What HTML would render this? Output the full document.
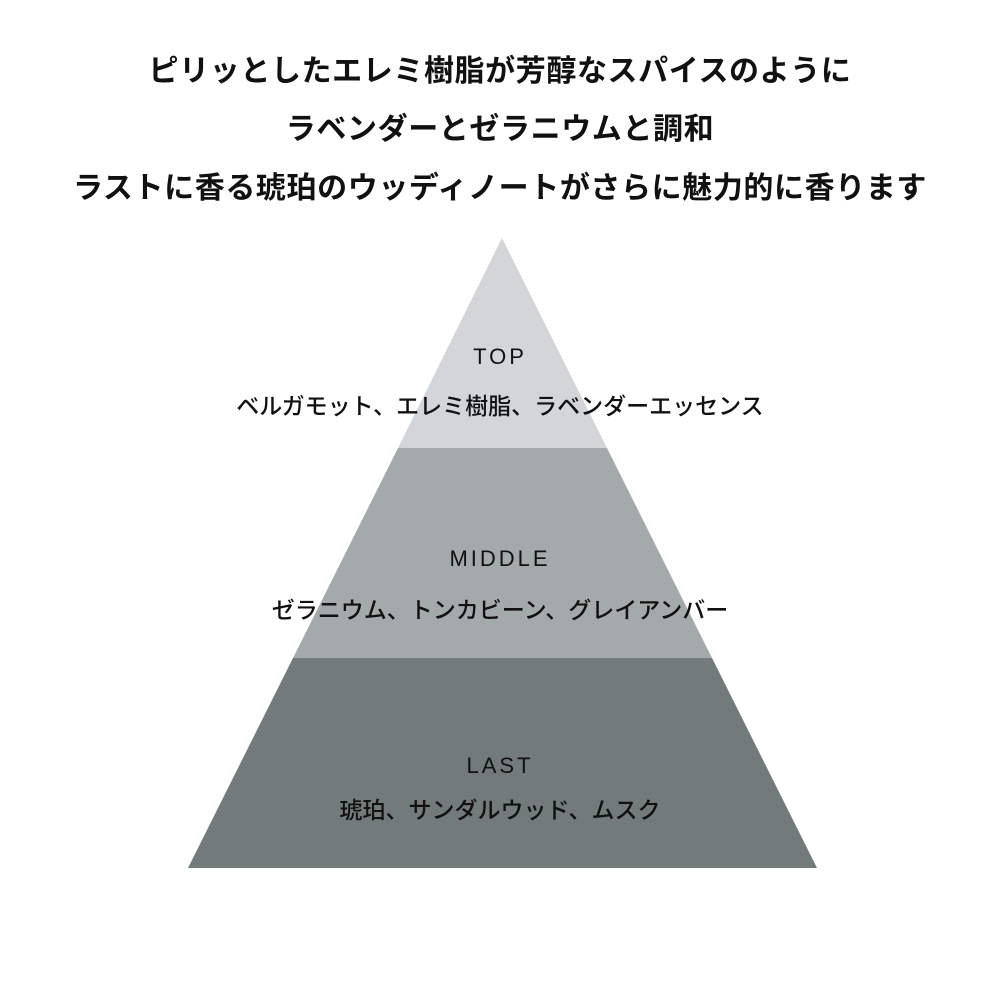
<!DOCTYPE html>
<html><head><meta charset="utf-8"><style>
body{margin:0;width:1000px;height:1000px;background:#fff;position:relative;overflow:hidden;font-family:"Liberation Sans","Noto Sans CJK JP",sans-serif;color:#111}
.t{position:absolute;left:0;width:1000px;text-align:center;white-space:nowrap}
.h{font-size:30px;font-weight:bold;letter-spacing:0.6px}
.en{font-size:22px;letter-spacing:3px}
.jp{font-size:23px;font-weight:500}
</style></head><body>
<div class="t h" style="top:46px">ピリッとしたエレミ樹脂が芳醇なスパイスのように</div>
<div class="t h" style="top:104px">ラベンダーとゼラニウムと調和</div>
<div class="t h" style="top:163px">ラストに香る琥珀のウッディノートがさらに魅力的に香ります</div>
<svg width="1000" height="1000" style="position:absolute;left:0;top:0">
<polygon points="502,238 607,448 398,448" fill="#d3d6d9"/>
<polygon points="398,448 607,448 712,658 293,658" fill="#a4a9aa"/>
<polygon points="293,658 712,658 817,868 188,868" fill="#737a7a"/>
</svg>
<div class="t en" style="top:344px">TOP</div>
<div class="t jp" style="top:387px">ベルガモット、エレミ樹脂、ラベンダーエッセンス</div>
<div class="t en" style="top:546px">MIDDLE</div>
<div class="t jp" style="top:591px">ゼラニウム、トンカビーン、グレイアンバー</div>
<div class="t en" style="top:753px">LAST</div>
<div class="t jp" style="top:791px">琥珀、サンダルウッド、ムスク</div>
</body></html>
